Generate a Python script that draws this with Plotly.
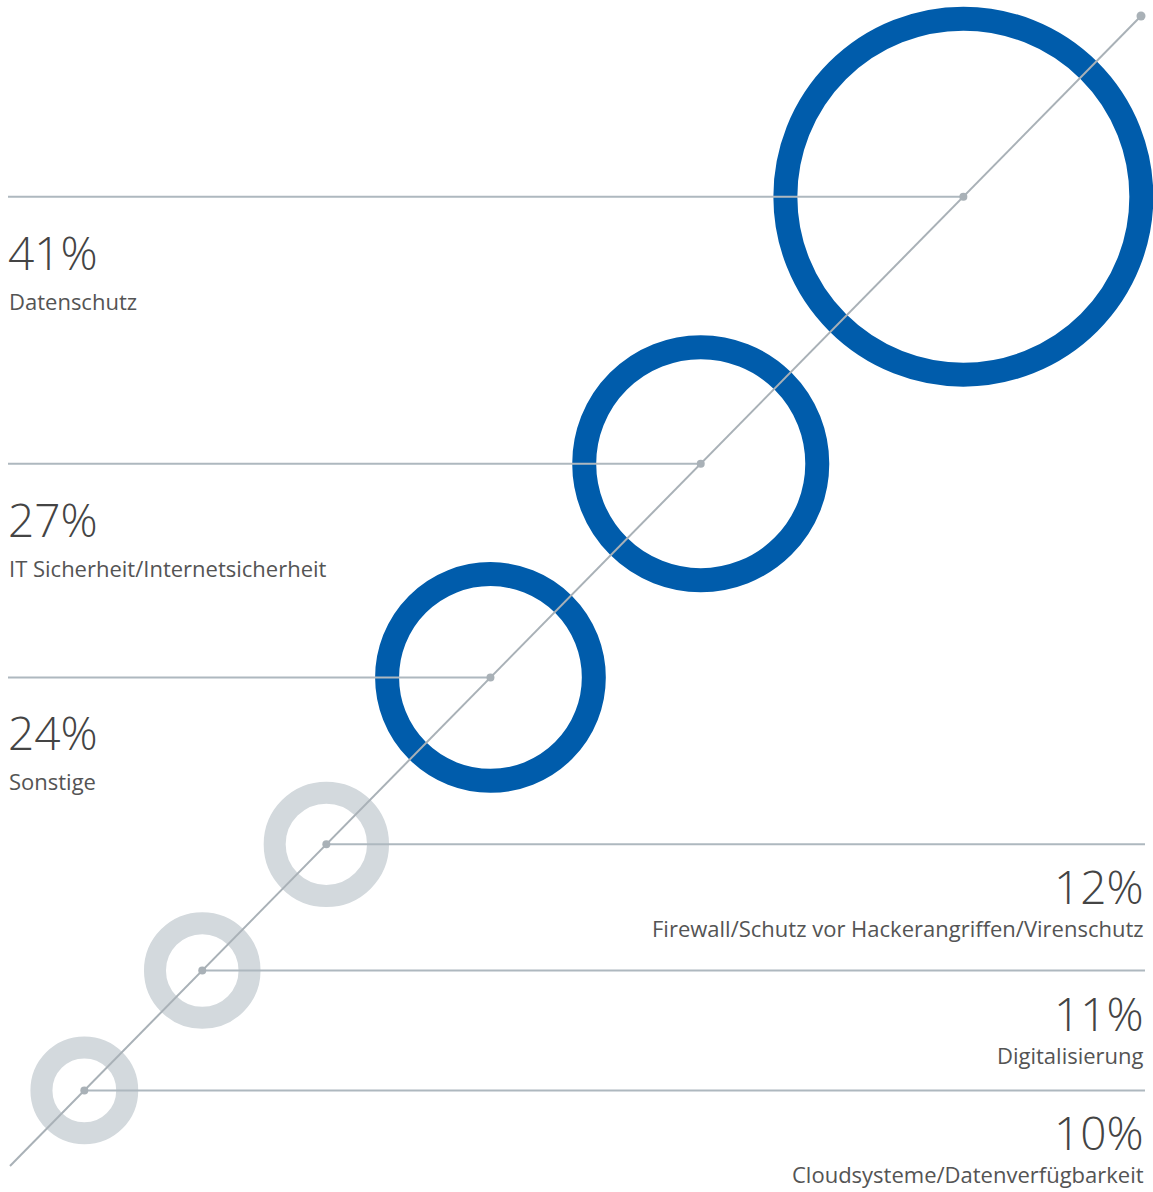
import plotly.graph_objects as go
import math

# ---- data ----
categories = [
    "Datenschutz",
    "IT Sicherheit/Internetsicherheit",
    "Sonstige",
    "Firewall/Schutz vor Hackerangriffen/Virenschutz",
    "Digitalisierung",
    "Cloudsysteme/Datenverfügbarkeit",
]
values = [41, 27, 24, 12, 11, 10]
value_labels = ["41%", "27%", "24%", "12%", "11%", "10%"]

# ---- layout constants (page is mapped 1:1 onto the axes) ----
W, H = 1153, 1192
BLUE = "#005CAB"
GREY_RING = "#D3D9DD"
LINE = "#AEB8BF"
DIAG = "#A9B1B7"
TXT = "#444444"
TXT2 = "#545454"

diag_start = (10, 1166)
diag_end = (1141, 16)
dx, dy = diag_end[0] - diag_start[0], diag_end[1] - diag_start[1]
L = math.hypot(dx, dy)
ux, uy = dx / L, dy / L

def radius(v):
    return 4.39 * v + 10.0

first_s = 106.0   # position of smallest ring along the diagonal
gap = 56.0        # constant gap between neighbouring rings

# place rings from smallest (bottom-left) to largest (top-right)
order = list(range(len(values)))[::-1]
s_pos = {}
s = first_s
prev = None
for i in order:
    if prev is not None:
        s += radius(values[prev]) + radius(values[i]) + gap
    s_pos[i] = s
    prev = i

fig = go.Figure()
shapes = []
annotations = []

for i, v in enumerate(values):
    cx = diag_start[0] + ux * s_pos[i]
    cy = diag_start[1] + uy * s_pos[i]
    big = v >= 20
    t = 24 if big else 22
    rr = radius(v) - t / 2
    shapes.append(dict(type="circle", xref="x", yref="y",
                       x0=cx - rr, x1=cx + rr, y0=cy - rr, y1=cy + rr,
                       line=dict(color=BLUE if big else GREY_RING, width=t),
                       fillcolor="rgba(0,0,0,0)", layer="above"))

line_shapes = []
dot_shapes = []
for i, v in enumerate(values):
    cx = diag_start[0] + ux * s_pos[i]
    cy = diag_start[1] + uy * s_pos[i]
    left = v >= 20
    if left:
        x0, x1 = 8, cx
    else:
        x0, x1 = cx, 1145
    line_shapes.append(dict(type="line", xref="x", yref="y", x0=x0, x1=x1, y0=cy, y1=cy,
                            line=dict(color=LINE, width=2), layer="above"))
    dot_shapes.append(dict(type="circle", xref="x", yref="y",
                           x0=cx - 4, x1=cx + 4, y0=cy - 4, y1=cy + 4,
                           line=dict(width=0), fillcolor=DIAG, layer="above"))
    if left:
        annotations.append(dict(x=6, y=cy + 55, xref="x", yref="y", text=value_labels[i],
                                showarrow=False, xanchor="left", yanchor="middle",
                                font=dict(family="Open Sans", size=46, color=TXT, weight=300)))
        annotations.append(dict(x=7, y=cy + 104, xref="x", yref="y", text=categories[i],
                                showarrow=False, xanchor="left", yanchor="middle",
                                font=dict(family="Open Sans", size=22, color=TXT2)))
    else:
        annotations.append(dict(x=1146, y=cy + 42, xref="x", yref="y", text=value_labels[i],
                                showarrow=False, xanchor="right", yanchor="middle",
                                font=dict(family="Open Sans", size=46, color=TXT, weight=300)))
        annotations.append(dict(x=1146, y=cy + 84, xref="x", yref="y", text=categories[i],
                                showarrow=False, xanchor="right", yanchor="middle",
                                font=dict(family="Open Sans", size=22, color=TXT2)))

diag_shape = dict(type="line", xref="x", yref="y", x0=diag_start[0], y0=diag_start[1],
                  x1=diag_end[0], y1=diag_end[1], line=dict(color=DIAG, width=2), layer="above")
end_dot = dict(type="circle", xref="x", yref="y",
               x0=diag_end[0] - 4.5, x1=diag_end[0] + 4.5, y0=diag_end[1] - 4.5, y1=diag_end[1] + 4.5,
               line=dict(width=0), fillcolor=DIAG, layer="above")

fig.update_layout(
    width=W, height=H,
    margin=dict(l=0, r=0, t=0, b=0),
    paper_bgcolor="white", plot_bgcolor="white",
    xaxis=dict(range=[0, W], visible=False, fixedrange=True),
    yaxis=dict(range=[H, 0], visible=False, fixedrange=True),
    shapes=shapes + line_shapes + [diag_shape] + dot_shapes + [end_dot],
    annotations=annotations,
    showlegend=False,
)

fig.write_html("out.html")
